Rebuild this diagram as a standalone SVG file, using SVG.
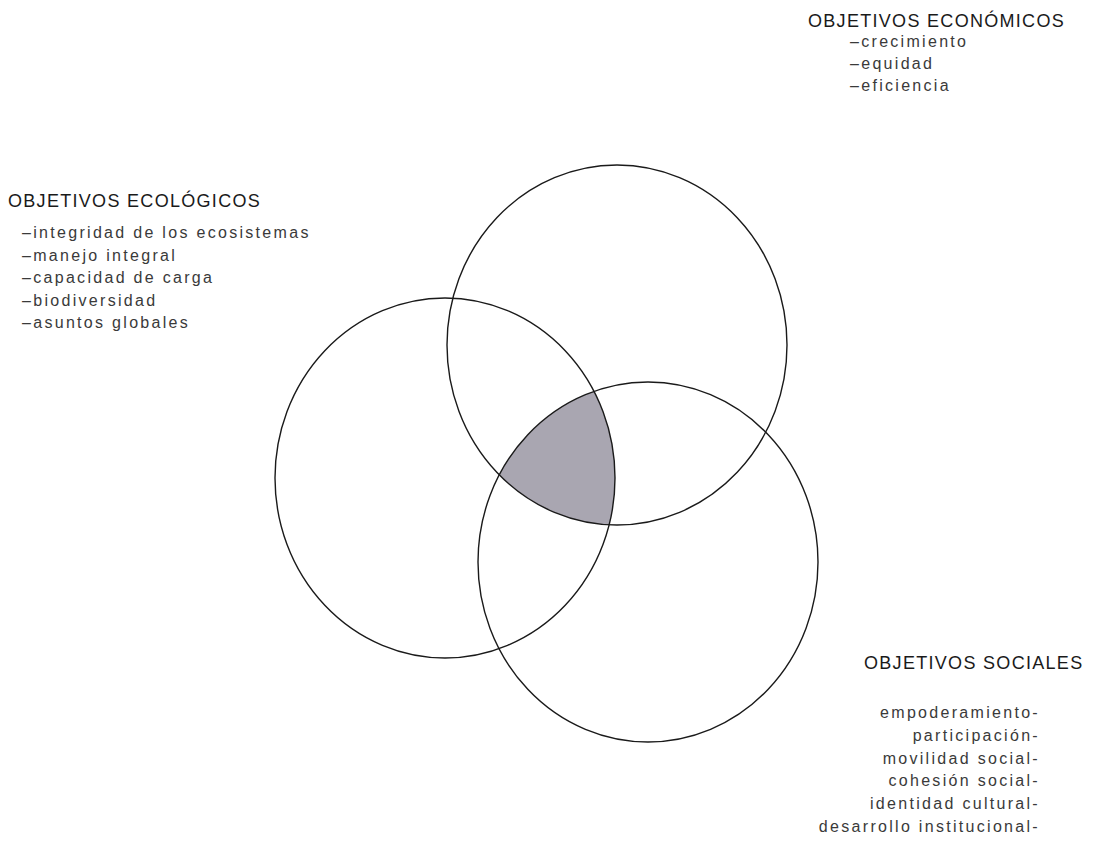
<svg xmlns="http://www.w3.org/2000/svg" width="1095" height="867" viewBox="0 0 1095 867">
<style>
.ring{fill:none;stroke:#1a1a1a;stroke-width:1.4}
.head{font-family:"Liberation Sans",Arial,sans-serif;font-size:18px;letter-spacing:1.3px;fill:#1a1a1a}
.item{font-family:"Liberation Sans",Arial,sans-serif;font-size:16px;letter-spacing:2.3px;fill:#3a3a3a}
.end{text-anchor:end}
</style>
<defs>
<clipPath id="clipLeft"><ellipse cx="445" cy="478" rx="170" ry="180"/></clipPath>
<clipPath id="clipBottom"><ellipse cx="648" cy="562" rx="170" ry="180"/></clipPath>
</defs>
<rect width="1095" height="867" fill="#ffffff"/>
<g id="center-intersection" clip-path="url(#clipLeft)">
<ellipse cx="617" cy="345" rx="170" ry="180" fill="#a9a6b1" clip-path="url(#clipBottom)"/>
</g>
<g id="circle-economic"><ellipse class="ring" cx="617" cy="345" rx="170" ry="180"/></g>
<g id="circle-ecological"><ellipse class="ring" cx="445" cy="478" rx="170" ry="180"/></g>
<g id="circle-social"><ellipse class="ring" cx="648" cy="562" rx="170" ry="180"/></g>
<g id="label-economic">
<text class="head" x="808" y="27">OBJETIVOS ECONÓMICOS</text>
<text class="item" x="850" y="47">–crecimiento</text>
<text class="item" x="850" y="69">–equidad</text>
<text class="item" x="850" y="91">–eficiencia</text>
</g>
<g id="label-ecological">
<text class="head" x="8" y="207">OBJETIVOS ECOLÓGICOS</text>
<text class="item" x="22" y="238">–integridad de los ecosistemas</text>
<text class="item" x="22" y="261">–manejo integral</text>
<text class="item" x="22" y="283">–capacidad de carga</text>
<text class="item" x="22" y="306">–biodiversidad</text>
<text class="item" x="22" y="328">–asuntos globales</text>
</g>
<g id="label-social">
<text class="head" x="864" y="669">OBJETIVOS SOCIALES</text>
<text class="item end" x="1040" y="718">empoderamiento-</text>
<text class="item end" x="1040" y="741">participación-</text>
<text class="item end" x="1040" y="764">movilidad social-</text>
<text class="item end" x="1040" y="786">cohesión social-</text>
<text class="item end" x="1040" y="809">identidad cultural-</text>
<text class="item end" x="1040" y="832">desarrollo institucional-</text>
</g>
</svg>
